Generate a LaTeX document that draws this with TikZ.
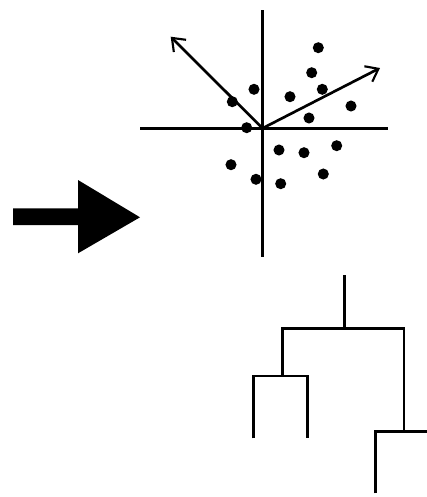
\documentclass[tikz,border=0pt]{standalone}
\usetikzlibrary{arrows.meta}
\begin{document}
\begin{tikzpicture}[x=0.75pt,y=-0.75pt,
  ln/.style={line width=2pt},
  dot/.style={circle,fill=black,inner sep=0pt,minimum size=8.3pt},
  vec/.style={ln,-{Straight Barb[length=8.5pt,width=13pt,line width=1.6pt]}}]
\useasboundingbox (0,0) rectangle (427,497);
% axes
\coordinate (o) at (262.5,128.3);
\coordinate (top) at (262.5,10);
\coordinate (bot) at (262.5,257);
\coordinate (lft) at (140,128.3);
\coordinate (rgt) at (388,128.3);
\draw[ln] (top) -- (bot);
\draw[ln] (lft) -- (rgt);
% loading vectors
\coordinate (v1) at (170.7,36.7);
\coordinate (v2) at (380,68);
\draw[vec] (o) -- (v1);
\draw[vec] (o) -- (v2);
% points
\foreach \i/\px/\py in {1/318.3/47.7,2/311.7/72.7,3/322.3/89.3,4/254/89.3,5/290/96.7,6/232.3/101.7,7/351/106,8/309/118,9/246.7/127.7,10/279/150,11/304/152.7,12/336.7/145.7,13/231/164.7,14/256/179.3,15/280.7/183.7,16/323.3/174}
  \node[dot] (p\i) at (\px,\py) {};
% big arrow
\fill (13,208.3) -- (78,208.3) -- (78,180) -- (140,217.3) -- (78,253.3) -- (78,225) -- (13,225) -- cycle;
% dendrogram
\coordinate (root) at (344.3,275);
\coordinate (r) at (344.3,328.3);
\coordinate (a) at (282.3,328.3);
\coordinate (b) at (404,328.3);
\coordinate (a1) at (282.3,376);
\coordinate (b1) at (404,431.7);
\draw[ln] (root) -- (r);
\draw[ln] (a1) -- (a) -- (b) -- (b1);
\draw[ln] (253.3,438.3) -- (253.3,376) -- (307.7,376) -- (307.7,438.3);
\draw[ln] (375.7,493.3) -- (375.7,431.7) -- (427,431.7);
\end{tikzpicture}
\end{document}
